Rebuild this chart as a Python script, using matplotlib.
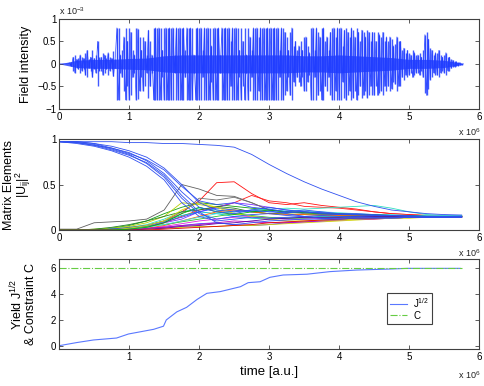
import numpy as np
import matplotlib.pyplot as plt

plt.rcParams['font.family'] = ['Liberation Sans', 'DejaVu Sans']
plt.rcParams['mathtext.fontset'] = 'custom'
plt.rcParams['mathtext.rm'] = 'Liberation Sans'
plt.rcParams['mathtext.it'] = 'Liberation Sans:italic'
plt.rcParams['mathtext.default'] = 'regular'

# ---- panel 1: field intensity (x in 1e6, y in 1e-3), sampled every 0.025
field_dt = 0.025
field = [0, 0, 0, 0,
         0, 0, .02, -.05,
         .15, -.2, .1, -.12,
         .2, -.15, .12, -.25,
         .3, -.1, .15, -.3,
         .12, -.2, .5, -.15,
         .15, -.25, .2, -.12,
         .25, -.15, .12, -.28,
         .1, .8, -.8, .2,
         -.3, .6, -.8, .5,
         -.8, .7, -.3, .2,
         -.8, .78, -.6, .3,
         -.6, .5, -.2, .75,
         -.5, .2, -.8, .8,
         -.8, .8, -.8, .3,
         -.8, .8, -.8, .8,
         -.8, .8, -.2, .8,
         -.8, .8, -.8, .8,
         -.3, .8, -.8, .8,
         -.8, .2, -.8, .8,
         -.8, .8, -.3, .8,
         -.8, .8, -.8, .4,
         -.8, .8, -.8, .8,
         -.2, .8, -.8, .8,
         -.8, .8, -.5, .8,
         -.8, .8, -.8, .3,
         -.8, .5, -.8, .2,
         -.8, .6, -.3, .8,
         -.8, .8, -.6, .8,
         -.8, .8, -.8, .8,
         -.8, .8, -.8, .8,
         -.8, .8, -.3, .8,
         -.8, .7, -.6, .3,
         -.7, .8, -.4, .5,
         -.3, .4, -.5, .3,
         -.6, .6, -.4, .25,
         -.8, .8, -.3, .8,
         -.7, .6, -.8, .8,
         -.5, .6, -.3, .7,
         -.8, .8, -.6, .8,
         -.8, .8, -.4, .75,
         -.8, .7, -.6, .8,
         -.75, .6, -.8, .7,
         -.5, .75, -.7, .6,
         -.75, .7, -.5, .7,
         -.7, .5, -.7, .65,
         -.6, .7, -.5, .6,
         -.5, .6, -.55, .4,
         -.45, .6, -.5, .5,
         -.3, .35, -.25, .3,
         -.25, .2, -.3, .25,
         -.2, .2, -.25, .15,
         -.3, .65, -.7, .55,
         -.35, .3, -.2, .25,
         -.25, .3, -.2, .15,
         -.2, .25, -.15, .15,
         -.1, .08, -.06, .05,
         -.04, .03, -.02, 0]
core_dt = 0.25
core_env = [0, .08, .1, .1, .12, .13, .18, .2, .2, .2, .2, .2,
            .2, .2, .18, .18, .2, .18, .16, .14, .1, .1, .08, .02]

# ---- panel 2: |U_ij|^2, sampled every 0.25
u_dt = 0.25
diag = [
    [.97, .97, .97, .97, .96, .96, .95, .95, .94, .93, .91, .83, .72, .62, .53, .45, .38, .31, .26, .22, .2, .18, .17, .165],
    [.97, .97, .95, .92, .87, .8, .68, .5, .3, .22, .2, .22, .2, .19, .2, .18, .17, .17, .16, .16, .16, .15, .15, .15],
    [.97, .96, .93, .9, .85, .76, .62, .42, .25, .2, .18, .22, .25, .22, .2, .19, .17, .17, .16, .16, .15, .15, .15, .15],
    [.97, .96, .94, .89, .83, .73, .58, .35, .18, .12, .15, .17, .18, .16, .15, .16, .15, .15, .14, .14, .14, .14, .14, .14],
    [.97, .95, .92, .87, .8, .7, .55, .3, .15, .1, .12, .14, .13, .14, .15, .13, .13, .14, .14, .14, .14, .14, .14, .14],
    [.97, .97, .95, .9, .84, .77, .66, .48, .32, .28, .3, .25, .23, .2, .22, .2, .18, .18, .17, .16, .15, .15, .15, .15],
    [.97, .96, .93, .88, .82, .74, .6, .38, .2, .08, .06, .08, .1, .11, .12, .12, .12, .13, .13, .13, .14, .14, .14, .14],
]
offdiag = [
    [.01, .01, .08, .09, .1, .12, .22, .5, .45, .38, .37, .3, .22, .2, .19, .18, .17, .17, .16, .16, .15, .15, .15, .15],
    [0, 0, 0, .01, .02, .05, .1, .2, .32, .52, .53, .4, .3, .28, .3, .27, .25, .23, .2, .18, .17, .16, .15, .15],
    [0, 0, 0, 0, .01, .03, .08, .15, .22, .25, .3, .38, .32, .3, .26, .25, .24, .22, .2, .18, .17, .16, .16, .16],
    [0, 0, 0, .02, .05, .1, .18, .25, .3, .28, .26, .24, .22, .2, .2, .19, .18, .17, .16, .16, .15, .15, .15, .15],
    [0, 0, .01, .02, .04, .08, .15, .3, .28, .25, .22, .2, .18, .18, .17, .17, .16, .16, .15, .15, .15, .15, .15, .15],
    [0, 0, 0, .01, .03, .06, .12, .2, .24, .22, .2, .22, .23, .24, .23, .24, .25, .26, .27, .24, .2, .17, .16, .16],
    [0, 0, 0, 0, .01, .02, .04, .07, .1, .12, .14, .15, .13, .12, .12, .13, .13, .14, .14, .14, .15, .15, .15, .15],
    [0, 0, 0, .01, .02, .04, .08, .12, .2, .25, .3, .28, .25, .22, .2, .19, .18, .17, .16, .16, .15, .15, .15, .15],
    [0, 0, 0, 0, .01, .02, .03, .05, .07, .08, .06, .05, .06, .08, .09, .1, .11, .12, .13, .13, .14, .14, .14, .14],
    [0, 0, .01, .03, .06, .1, .15, .2, .22, .26, .24, .2, .18, .19, .2, .18, .17, .17, .16, .16, .15, .15, .15, .15],
    [0, 0, 0, 0, 0, .01, .02, .03, .04, .04, .05, .05, .06, .07, .08, .09, .1, .11, .12, .13, .13, .14, .14, .14],
    [0, 0, 0, .01, .02, .05, .1, .16, .2, .18, .15, .13, .12, .13, .14, .15, .15, .15, .15, .15, .15, .15, .15, .15],
    [0, 0, 0, 0, .01, .02, .05, .1, .15, .2, .22, .2, .18, .17, .17, .16, .16, .16, .15, .15, .15, .15, .15, .15],
    [0, 0, 0, .01, .02, .04, .06, .09, .12, .15, .18, .16, .14, .13, .13, .14, .14, .14, .15, .15, .15, .15, .15, .15],
    [0, 0, 0, 0, .01, .02, .03, .05, .06, .08, .1, .09, .08, .08, .09, .1, .11, .12, .12, .13, .14, .14, .14, .14],
    [0, 0, 0, .01, .03, .05, .1, .18, .35, .33, .36, .3, .22, .2, .18, .17, .17, .16, .16, .16, .15, .15, .15, .15],
    [0, 0, 0, 0, .01, .03, .06, .1, .14, .18, .2, .21, .2, .22, .21, .2, .19, .18, .17, .17, .16, .16, .16, .16],
    [0, 0, 0, .01, .02, .05, .09, .14, .2, .24, .22, .2, .21, .18, .15, .13, .12, .12, .13, .13, .14, .14, .14, .14],
    [0, 0, 0, 0, .02, .05, .1, .22, .3, .25, .18, .15, .12, .1, .1, .11, .11, .12, .13, .13, .14, .14, .14, .14],
    [0, 0, 0, 0, 0, .01, .02, .04, .05, .07, .08, .1, .12, .13, .14, .14, .14, .15, .15, .15, .15, .15, .15, .15],
    [0, 0, 0, 0, 0, 0, .01, .02, .03, .04, .05, .06, .08, .09, .1, .11, .12, .13, .13, .14, .14, .14, .14, .14],
    [0, 0, 0, 0, .01, .03, .08, .18, .25, .2, .17, .2, .22, .2, .19, .18, .18, .17, .17, .16, .16, .15, .15, .15],
]
offdiag_colors = ['#606060', '#ff1010', '#ff2020', '#10a010', '#b8d000', '#30e0c0',
                  '#e020e0', '#8030ff', '#4040ff', '#208020', '#d0d000', '#00c0c0',
                  '#ff6000', '#30c030', '#c000c0', '#707070', '#40e0e0', '#3050ff',
                  '#e0e000', '#6000a0', '#e00000', '#00b000']

# ---- panel 3: yield and constraint
yield_t = [0, 0.25, 0.49, 0.82, 0.99, 1.35, 1.49, 1.53, 1.68, 1.82, 1.97, 2.11, 2.3, 2.59,
           2.7, 2.87, 3.01, 3.2, 3.54, 3.87, 4.25, 4.73, 4.97, 5.73]
yield_v = [0, 0.24, 0.44, 0.59, 0.9, 1.26, 1.5, 1.98, 2.6, 2.95, 3.56, 4.03, 4.16, 4.54,
           4.85, 4.92, 5.26, 5.44, 5.5, 5.7, 5.82, 5.9, 5.95, 5.95]
constraint_t = [0, 5.75]
constraint_v = [5.96, 5.96]

blue = '#1f3cff'
frame = '#404040'


def style(ax):
    ax.tick_params(direction='in', top=True, right=True, length=3, width=0.6,
                   labelsize=7, color=frame, pad=2)
    for s in ax.spines.values():
        s.set_color(frame)
        s.set_linewidth(0.8)


fig = plt.figure(figsize=(4.85, 3.86), dpi=100)
ax1 = fig.add_axes([0.122, 0.718, 0.866, 0.233])
ax2 = fig.add_axes([0.122, 0.404, 0.866, 0.236])
ax3 = fig.add_axes([0.122, 0.096, 0.866, 0.233])

# panel 1
ft = np.arange(len(field)) * field_dt
amp = np.abs(field)
ct = np.arange(len(core_env)) * core_dt
ax1.vlines(ft, -amp, amp, color=blue, lw=1.0, alpha=0.85)
ax1.plot(ft, field, color=blue, lw=0.5, alpha=0.9)
ax1.fill_between(ct, -np.array(core_env), core_env, color=blue, lw=0, alpha=0.8)
ax1.set_xlim(0, 6)
ax1.set_ylim(-1, 1)
ax1.set_yticks([-1, -0.5, 0, 0.5, 1])
ax1.set_yticklabels(['\u22121', '\u22120.5', '0', '0.5', '1'])
ax1.set_xticks(range(7))
ax1.set_ylabel('Field intensity', fontsize=9)
ax1.yaxis.set_label_coords(-0.064, 0.5)
style(ax1)

# panel 2
ut = np.arange(len(diag[0])) * u_dt
for row, c in zip(offdiag, offdiag_colors):
    ax2.plot(ut, row, color=c, lw=0.6)
for row in diag:
    ax2.plot(ut, row, color='#3050f0', lw=0.6)
ax2.set_xlim(0, 6)
ax2.set_ylim(0, 1)
ax2.set_yticks([0, 0.5, 1])
ax2.set_yticklabels(['0', '0.5', '1'])
ax2.set_xticks(range(7))
ax2.set_ylabel('Matrix Elements\n|U$_{ij}$|$^2$', fontsize=9, linespacing=0.9)
ax2.yaxis.set_label_coords(-0.062, 0.5)
style(ax2)

# panel 3
ax3.plot(yield_t, yield_v, color='#5a78ff', lw=0.8, label='J$^{1/2}$')
ax3.plot(constraint_t, constraint_v, color='#66cc44', lw=0.8, ls='-.', label='C')
ax3.set_xlim(0, 6)
ax3.set_ylim(-0.25, 6.67)
ax3.set_yticks([0, 2, 4, 6])
ax3.set_xticks(range(1, 7))
ax3.set_ylabel('Yield J$^{1/2}$\n& Constraint C', fontsize=9, linespacing=1.0)
ax3.yaxis.set_label_coords(-0.052, 0.5)
ax3.set_xlabel('time [a.u.]', fontsize=9.5, labelpad=3)
style(ax3)
leg = ax3.legend(loc='upper left', bbox_to_anchor=(0.78, 0.62), fontsize=7,
                 fancybox=False, framealpha=1, edgecolor=frame, handlelength=1.8,
                 borderpad=0.3, labelspacing=0.1, handletextpad=0.6, borderaxespad=0)
leg.get_frame().set_linewidth(0.8)

# scale markers
fig.text(0.122, 0.962, 'x 10$^{-3}$', fontsize=6.5, color='#222222')
for y in [0.648, 0.335, 0.018]:
    fig.text(0.944, y, 'x 10$^{6}$', fontsize=6.5, color='#222222')

fig.savefig('out.png', dpi=100)
